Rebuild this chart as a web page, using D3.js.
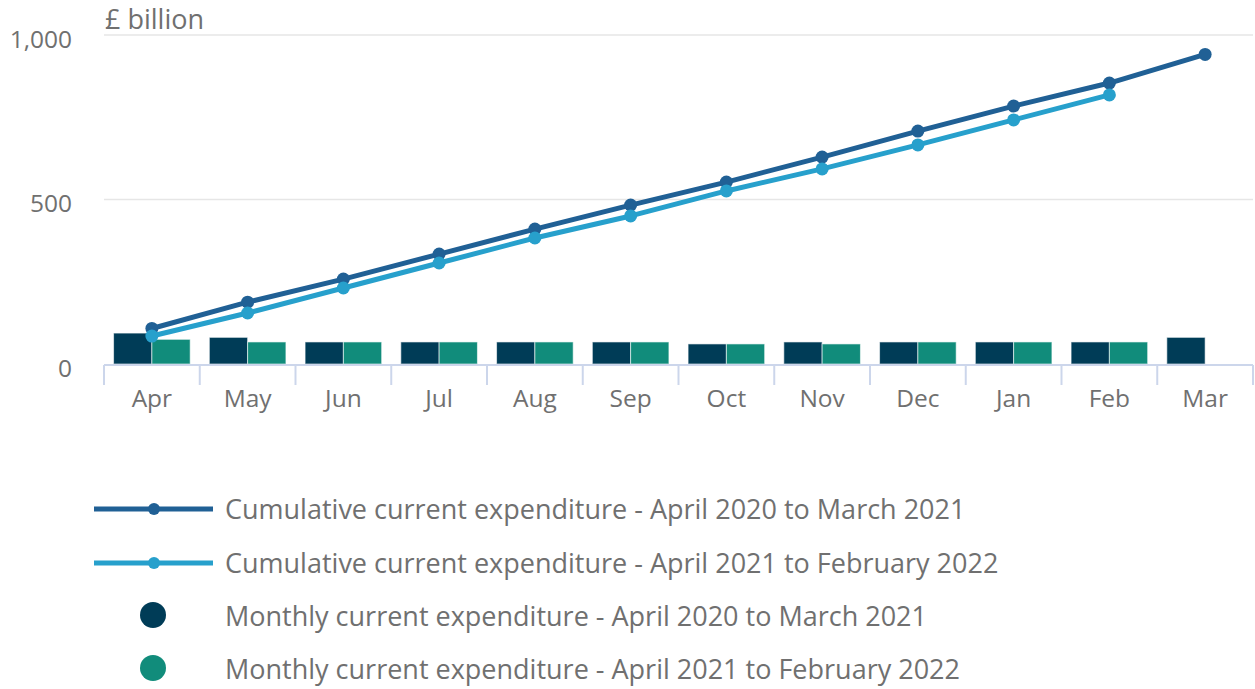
<!DOCTYPE html>
<html><head><meta charset="utf-8">
<script src="https://cdn.jsdelivr.net/npm/d3@7"></script>
<style>
body{margin:0;background:#fff;}
text{font-family:"Open Sans",sans-serif;fill:#707070;}
</style></head>
<body><svg id="c" width="1255" height="689"></svg>
<script>
const months = ["Apr","May","Jun","Jul","Aug","Sep","Oct","Nov","Dec","Jan","Feb","Mar"];
const monthly2020 = [94,81,67,67,67,67,61,67,67,67,67,81];
const monthly2021 = [75,67,67,67,67,67,61,61,67,67,67,null];
const cumulative2020 = [108,188,258,334,410,483,553,629,708,784,854,941];
const cumulative2021 = [85,155,231,307,383,450,526,593,666,742,818,null];
const yTicks = [0,500,1000];
const seriesNames = [
  "Cumulative current expenditure - April 2020 to March 2021",
  "Cumulative current expenditure - April 2021 to February 2022",
  "Monthly current expenditure - April 2020 to March 2021",
  "Monthly current expenditure - April 2021 to February 2022"
];
const colors = ["#206095","#27a0cc","#003c57","#118c7b"];

(function(){
const svg = d3.select("#c");
const pLeft=104,pRight=1253,pTop=35,pBottom=364;
const x = d3.scaleBand().domain(months).range([pLeft,pRight]).padding(0);
const sub = d3.scaleBand().domain([0,1]).range([0,x.bandwidth()]).paddingOuter(0.25).paddingInner(0);
const y = d3.scaleLinear().domain([0,1000]).range([pBottom,pTop]);

// grid
svg.append("g").selectAll("line").data(yTicks.filter(d=>d>0)).join("line")
  .attr("x1",pLeft).attr("x2",pRight).attr("y1",d=>y(d)).attr("y2",d=>y(d))
  .attr("stroke","#e6e6e6").attr("stroke-width",1.5);

// y labels
svg.append("g").selectAll("text").data(yTicks).join("text")
  .attr("x",72).attr("y",d=>y(d)+4).attr("dy","0.35em").attr("text-anchor","end")
  .attr("font-size",24.5).text(d=>d3.format(",")(d));
svg.append("text").attr("x",105).attr("y",29).attr("font-size",27).text("£ billion");

// bars
const bars = svg.append("g");
[monthly2020,monthly2021].forEach((arr,si)=>{
  bars.append("g").selectAll("rect").data(months.map((m,i)=>({m,v:arr[i]})).filter(d=>d.v!=null)).join("rect")
    .attr("x",d=>x(d.m)+sub(si)).attr("width",sub.bandwidth())
    .attr("y",d=>y(d.v)).attr("height",d=>y(0)-y(d.v))
    .attr("fill",colors[2+si]).attr("stroke","#ffffff").attr("stroke-width",1).attr("stroke-opacity",0.6);
});

// x axis
const xAxis = d3.axisBottom(x).tickSize(0).tickPadding(25);
const gx = svg.append("g").attr("transform",`translate(0,${pBottom+1})`).call(xAxis);
gx.select(".domain").remove();
gx.selectAll("text").attr("font-size",24.5).style("font-family","Open Sans").attr("fill","#707070");
svg.append("line").attr("x1",pLeft).attr("x2",pRight).attr("y1",pBottom+1).attr("y2",pBottom+1)
  .attr("stroke","#ccd6eb").attr("stroke-width",2);
const bounds = months.map(m=>x(m)).concat([pRight]);
svg.append("g").selectAll("line").data(bounds).join("line")
  .attr("x1",d=>d).attr("x2",d=>d).attr("y1",pBottom+1).attr("y2",pBottom+21)
  .attr("stroke","#ccd6eb").attr("stroke-width",2);

// lines
const cx = m=>x(m)+x.bandwidth()/2;
[cumulative2020,cumulative2021].forEach((arr,si)=>{
  const data = months.map((m,i)=>({m,v:arr[i]})).filter(d=>d.v!=null);
  svg.append("path").datum(data)
    .attr("d",d3.line().x(d=>cx(d.m)).y(d=>y(d.v)))
    .attr("fill","none").attr("stroke",colors[si]).attr("stroke-width",5).attr("stroke-linejoin","round").attr("stroke-linecap","round");
  svg.append("g").selectAll("circle").data(data).join("circle")
    .attr("cx",d=>cx(d.m)).attr("cy",d=>y(d.v)).attr("r",6.5).attr("fill",colors[si]);
});

// legend
const legY = [509,563,615,668];
const lg = svg.append("g");
seriesNames.forEach((name,i)=>{
  if(i<2){
    lg.append("line").attr("x1",94).attr("x2",213).attr("y1",legY[i]).attr("y2",legY[i])
      .attr("stroke",colors[i]).attr("stroke-width",5);
    lg.append("circle").attr("cx",154).attr("cy",legY[i]).attr("r",6).attr("fill",colors[i]);
  } else {
    lg.append("circle").attr("cx",153).attr("cy",legY[i]).attr("r",13).attr("fill",colors[i]);
  }
  lg.append("text").attr("x",225).attr("y",legY[i]+(i<2?1:2)).attr("dy","0.35em").attr("font-size",27).text(name);
});
})();
</script></body></html>
